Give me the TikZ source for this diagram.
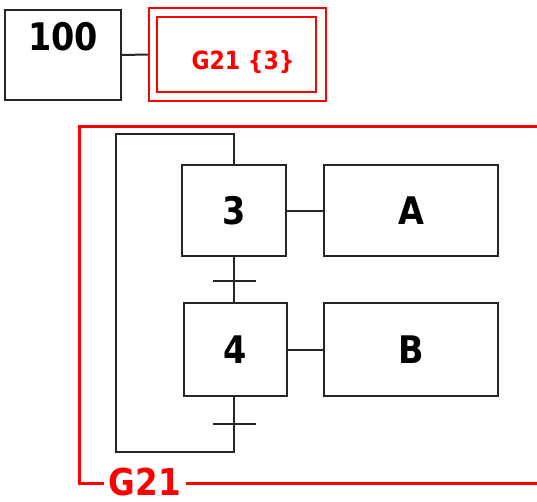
\documentclass[tikz,border=0pt]{standalone}
\usepackage{fontspec}
\newfontfamily\tah{DejaVu Sans}[FakeStretch=0.88]
\begin{document}
\begin{tikzpicture}[x=1pt,y=-1pt,
  box/.style={draw=black!85,line width=2pt,rectangle,inner sep=0pt},
  big/.style={font=\tah\bfseries\fontsize{38}{40}\selectfont,inner sep=0pt},
  redtxt/.style={text=red,font=\tah\bfseries\fontsize{25}{28}\selectfont,inner sep=0pt},
  wire/.style={draw=black!85,line width=2pt},
  redline/.style={draw=red,line width=3pt}]
\useasboundingbox (0,0) rectangle (537,501);
% top row
\node[box,minimum width=116pt,minimum height=90pt] (n100) at (63,55) {};
\node[big] (t100) at (63,37) {100};
\node[draw=red,line width=2.5pt,rectangle,minimum width=177pt,minimum height=93pt,inner sep=0pt] (gout) at (237.5,54.5) {};
\node[draw=red,line width=2.5pt,rectangle,minimum width=159pt,minimum height=75pt,inner sep=0pt] (gin) at (236.5,54.5) {};
\node[redtxt] (tg) at (243,62) {G21 \{3\}};
\draw[wire] (n100.east) -- (gout.west);
% red frame
\draw[redline] (537,126) -- (79,126) -- (79,483) -- (537,483);
\node[text=red,font=\tah\bfseries\fontsize{37}{40}\selectfont,fill=white,inner xsep=5pt,inner ysep=0pt] (lbl) at (145,482) {G21};
% steps
\node[box,minimum width=104pt,minimum height=91pt] (s3) at (234,210.5) {};
\node[big] at (s3) {3};
\node[box,minimum width=103pt,minimum height=93pt] (s4) at (235,349.5) {};
\node[big] at (s4) {4};
\node[box,minimum width=174pt,minimum height=91pt] (a) at (411,210.5) {};
\node[big] at (a) {A};
\node[box,minimum width=174pt,minimum height=93pt] (b) at (411,349.5) {};
\node[big] at (b) {B};
\draw[wire] (s3.east) -- (a.west);
\draw[wire] (s4.east) -- (b.west);
% transitions
\coordinate (t1) at (234,281);
\coordinate (t2) at (234,424);
\coordinate (lb) at (234,452);
\coordinate (lt) at (234,134);
\draw[wire] (s3.south) -- (s3.south |- s4.north);
\draw[wire] ([xshift=-21pt]t1) -- ([xshift=22pt]t1);
\draw[wire] (s4.south -| t2) -- (lb) -- (116,452) -- (116,134) -- (lt) -- (lt |- s3.north);
\draw[wire] ([xshift=-21pt]t2) -- ([xshift=22pt]t2);
\end{tikzpicture}
\end{document}
